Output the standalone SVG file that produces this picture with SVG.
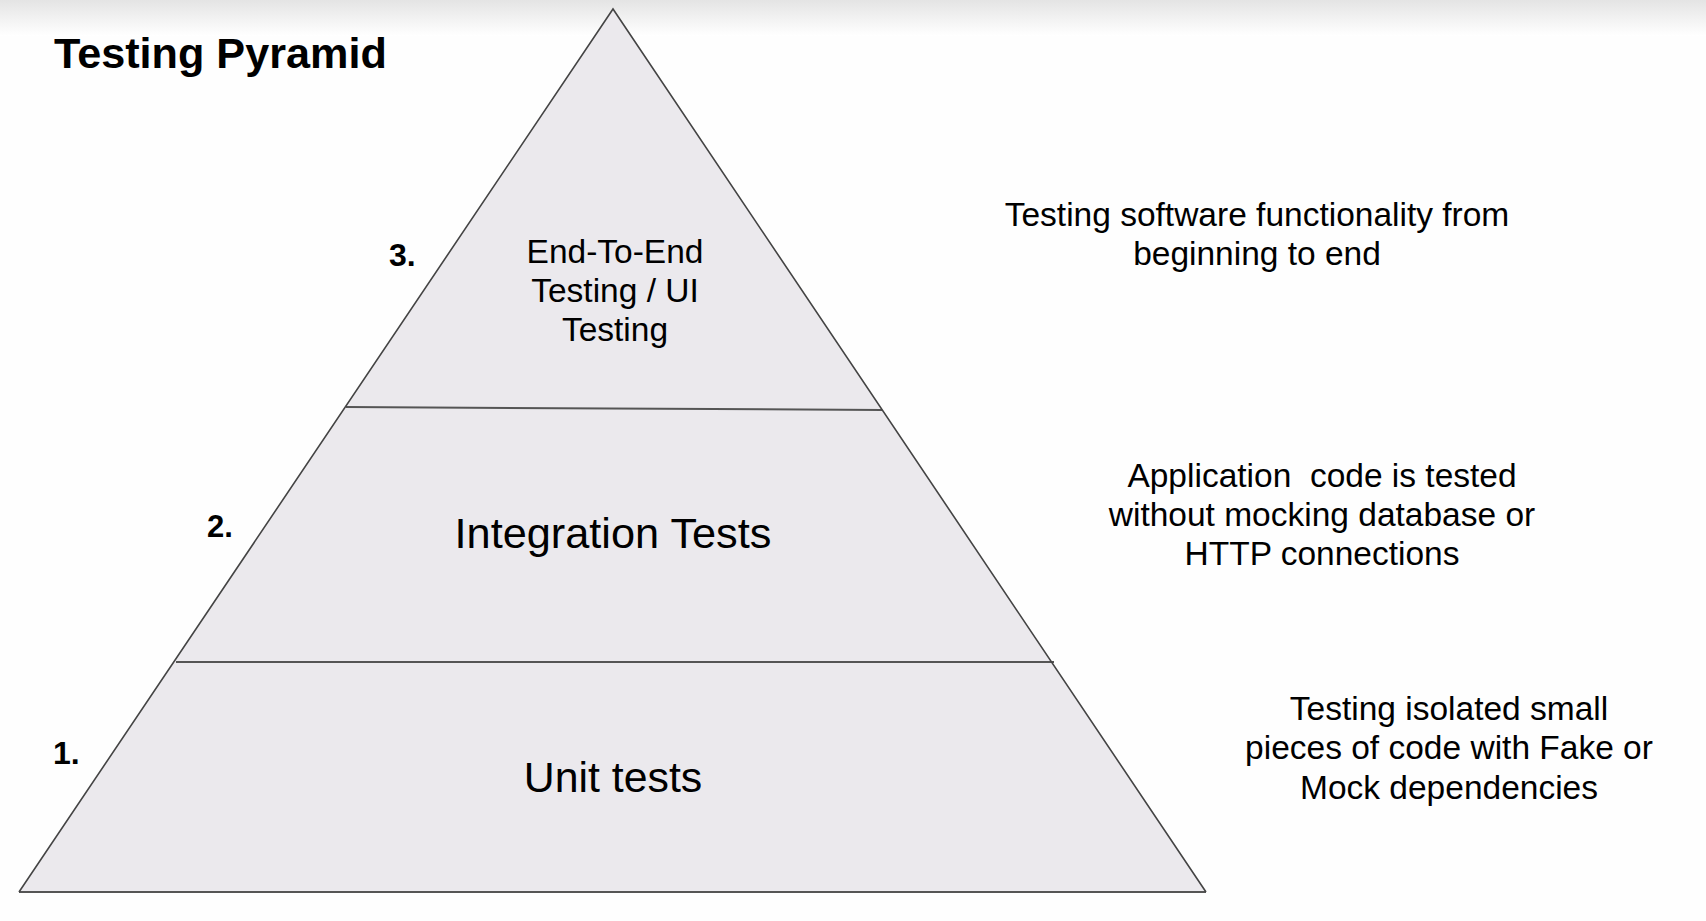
<svg xmlns="http://www.w3.org/2000/svg" width="1706" height="921" viewBox="0 0 1706 921">
<defs>
<linearGradient id="topShade" x1="0" y1="0" x2="0" y2="1">
<stop offset="0" stop-color="#e4e4e4"/>
<stop offset="1" stop-color="#ffffff"/>
</linearGradient>
</defs>
<style>
.t{font-family:"Liberation Sans",Arial,sans-serif;fill:#000;}
.b{font-weight:bold;}
.c{text-anchor:middle;}
.edge{fill:none;stroke:#444;stroke-width:1.6;stroke-linejoin:miter;}
.div{fill:none;stroke:#555;stroke-width:2;}
</style>
<rect x="0" y="0" width="1706" height="921" fill="#fefefe"/>
<rect x="0" y="0" width="1706" height="36" fill="url(#topShade)"/>
<g id="title"><text class="t b" x="54" y="68" font-size="43.2">Testing Pyramid</text></g>
<g id="pyramid">
<polygon points="613,9 1206,892 19,892" fill="#ebe9ed" stroke="none"/>
</g>
<g id="connectors">
<line class="div" x1="346" y1="407" x2="882" y2="410"/>
<line class="div" x1="176" y1="662" x2="1054" y2="662"/>
<line class="div" x1="19" y1="892" x2="1206" y2="892"/>
<polyline class="edge" points="19,892 613,9 1206,892"/>
</g>
<g id="level3">
<text class="t b" x="389" y="266" font-size="32">3.</text>
<text class="t c" x="615" y="263" font-size="33.5">End-To-End</text>
<text class="t c" x="615" y="302" font-size="33.5">Testing / UI</text>
<text class="t c" x="615" y="341" font-size="33.5">Testing</text>
</g>
<g id="level2">
<text class="t b" x="207" y="537" font-size="31">2.</text>
<text class="t c" x="613" y="548" font-size="43.3">Integration Tests</text>
</g>
<g id="level1">
<text class="t b" x="53" y="764" font-size="32">1.</text>
<text class="t c" x="613" y="792" font-size="42.8">Unit tests</text>
</g>
<g id="desc3">
<text class="t c" x="1257" y="226" font-size="33.5">Testing software functionality from</text>
<text class="t c" x="1257" y="265" font-size="33.5">beginning to end</text>
</g>
<g id="desc2">
<text class="t c" x="1322" y="487" font-size="33.5" xml:space="preserve" style="white-space:pre">Application  code is tested</text>
<text class="t c" x="1322" y="526" font-size="33.5">without mocking database or</text>
<text class="t c" x="1322" y="565" font-size="33.5">HTTP connections</text>
</g>
<g id="desc1">
<text class="t c" x="1449" y="720" font-size="33.5">Testing isolated small</text>
<text class="t c" x="1449" y="759" font-size="33.5">pieces of code with Fake or</text>
<text class="t c" x="1449" y="799" font-size="33.5">Mock dependencies</text>
</g>
</svg>
